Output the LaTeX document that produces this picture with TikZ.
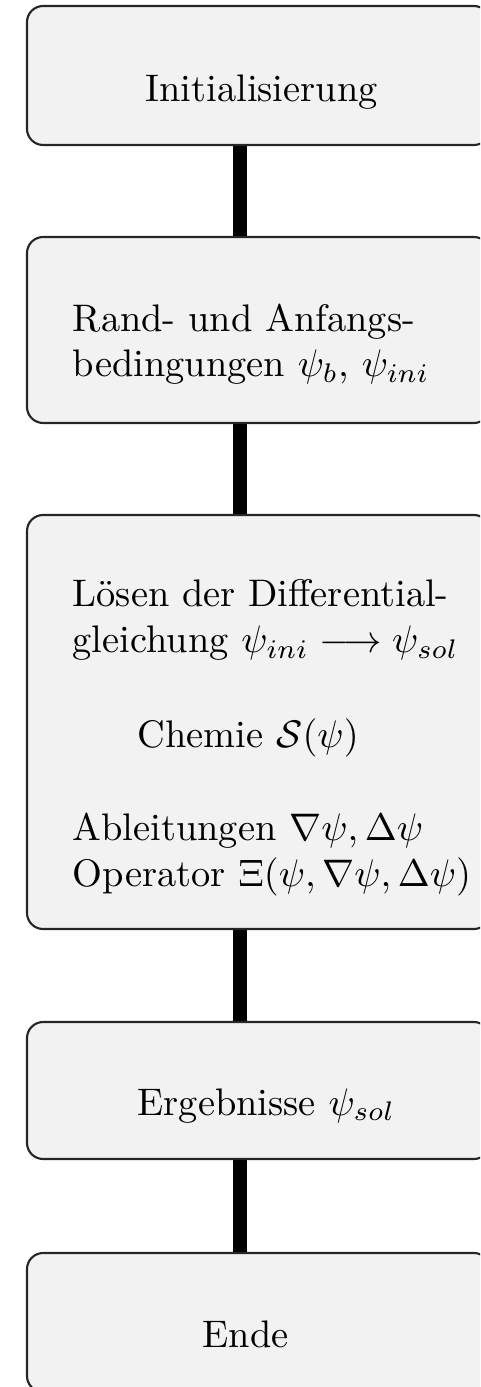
\documentclass[tikz,border=0pt]{standalone}
\usepackage{amsmath}
\definecolor{boxfill}{gray}{0.95}
\definecolor{edge}{gray}{0.15}
\begin{document}
\begin{tikzpicture}[x=0.2604pt,y=-0.2604pt,
  box/.style={draw=edge, line width=0.55pt, fill=boxfill, rounded corners=4.2pt,
    minimum width=120.57pt, inner sep=0pt},
  link/.style={line width=3.65pt, black},
  lbl/.style={anchor=base west, inner sep=0pt, font=\fontsize{10}{12}\selectfont}]
\useasboundingbox (0,0) rectangle (480,1387);
\clip (0,0) rectangle (480,1387);
\fill[white] (0,0) rectangle (480,1387);
% boxes
\node[box, minimum height=36.20pt] (b1) at (258.5,75.5) {};
\node[box, minimum height=48.43pt] (b2) at (258.5,330) {};
\node[box, minimum height=107.81pt] (b3) at (258.5,722) {};
\node[box, minimum height=35.67pt] (b4) at (258.5,1090.5) {};
\node[box, minimum height=36.20pt] (b5) at (258.5,1322.5) {};
% connectors
\coordinate (cx) at (240,0);
\draw[link] (b1.south -| cx) -- (b2.north -| cx);
\draw[link] (b2.south -| cx) -- (b3.north -| cx);
\draw[link] (b3.south -| cx) -- (b4.north -| cx);
\draw[link] (b4.south -| cx) -- (b5.north -| cx);
% texts
\node[lbl] (t1) at (145,102) {Initialisierung};
\node[lbl] (t2a) at (72,332) {Rand- und Anfangs-};
\node[lbl] (t2b) at (72,377) {bedingungen $\psi_b$, $\psi_{ini}$};
\node[lbl] (t3a) at (72,607) {Lösen der Differential-};
\node[lbl] (t3b) at (72,653) {gleichung $\psi_{ini} \longrightarrow \psi_{sol}$};
\node[lbl] (t3c) at (137,747) {Chemie $\mathcal{S}(\psi)$};
\node[lbl] (t3d) at (72,840) {Ableitungen $\nabla\psi, \Delta\psi$};
\node[lbl] (t3e) at (72,886) {Operator $\Xi(\psi, \nabla\psi, \Delta\psi)$};
\node[lbl] (t4) at (137,1115) {Ergebnisse $\psi_{sol}$};
\node[lbl] (t5) at (202,1347) {Ende};
\end{tikzpicture}
\end{document}
